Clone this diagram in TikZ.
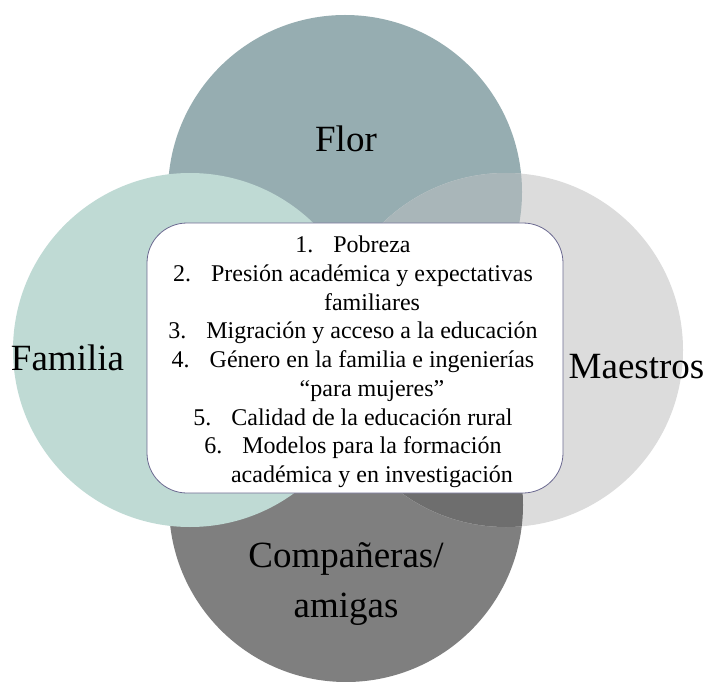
\documentclass[tikz,border=0pt]{standalone}
\usepackage{fontspec}
\setmainfont{Liberation Serif}
\usetikzlibrary{positioning}

\definecolor{florcol}{HTML}{96ADB1}
\definecolor{famcol}{HTML}{BFDAD4}
\definecolor{maecol}{HTML}{DCDCDC}
\definecolor{compcol}{HTML}{7F7F7F}
\definecolor{flormae}{HTML}{A9B6B9}
\definecolor{compmae}{HTML}{6E6E6E}
\definecolor{boxline}{HTML}{6B6990}

\newcommand{\itemnum}[1]{\makebox[38pt][l]{#1}}
\newcommand{\itemcont}{\hspace*{38pt}}

\begin{document}
	\begin{tikzpicture}[x=1pt, y=1pt,
		circ/.style={circle, minimum size=354pt, inner sep=0pt},
		biglabel/.style={font=\fontsize{37}{50}\selectfont, align=center, inner sep=0pt}]
		\useasboundingbox (0, 0) rectangle (706, 681);

		% Circles
		\begin{scope}
			\node (flor) at (345, 489) [circ, fill=florcol] {};
			\node (comp) at (346, 176) [circ, fill=compcol] {};
			\node (maestros) at (506, 331) [circ, fill=maecol] {};
		\end{scope}

		% Overlaps
		\begin{scope}
			\clip (maestros.center) circle (177);
			\fill[flormae] (flor.center) circle (177);
			\fill[compmae] (comp.center) circle (177);
		\end{scope}

		\node (familia) at (190, 331) [circ, fill=famcol] {};

		% Labels
		\begin{scope}
			\node (flor_title) at (346, 529) [biglabel, anchor=base] {Flor};
			\node (familia_title) at (67.5, 311) [biglabel, anchor=base] {Familia};
			\node (maestros_title) at (636.5, 303) [biglabel, anchor=base] {Maestros};
			\node (comp_title) at (346, 64) [biglabel, anchor=base] {Compañeras/\\amigas};
		\end{scope}

		% Factors
		\node (factors) at (355, 323) [draw=boxline, line width=0.8pt, fill=white, rounded corners=40pt,
			minimum width=416pt, minimum height=270pt, align=center, inner sep=0pt,
			font=\fontsize{24}{28.75}\selectfont] {};
		\node (factor_list) at (353, 319) [align=center, inner sep=0pt,
			font=\fontsize{24}{28.75}\selectfont] {%
			\itemnum{1.}Pobreza\\
			\itemnum{2.}Presión académica y expectativas\\
			\itemcont familiares\\
			\itemnum{3.}Migración y acceso a la educación\\
			\itemnum{4.}Género en la familia e ingenierías\\
			\itemcont “para mujeres”\\
			\itemnum{5.}Calidad de la educación rural\\
			\itemnum{6.}Modelos para la formación\\
			\itemcont académica y en investigación};

	\end{tikzpicture}
\end{document}
